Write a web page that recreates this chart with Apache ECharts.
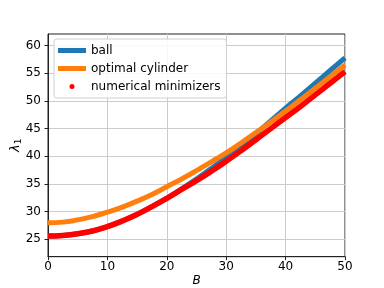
<!DOCTYPE html>
<html>
<head>
<meta charset="utf-8">
<script src="https://cdn.jsdelivr.net/npm/echarts@6/dist/echarts.min.js"></script>
<style>html,body{margin:0;padding:0;background:#fff}#c{width:384px;height:288px}</style>
</head>
<body>
<div id="c"></div>
<script>
const B = [0, 2.5, 5, 7.5, 10, 12.5, 15, 17.5, 20, 22.5, 25, 27.5, 30, 32.5, 35, 37.5, 40, 42.5, 45, 47.5, 50];
const ball = [25.6, 25.7, 26.0, 26.5, 27.3, 28.3, 29.5, 30.9, 32.4, 34.1, 35.9, 37.8, 39.8, 41.9, 44.1, 46.4, 48.7, 50.9, 53.2, 55.5, 57.8];
const cylinder = [28.0, 28.1, 28.5, 29.1, 29.9, 30.8, 31.9, 33.1, 34.5, 35.9, 37.4, 39.0, 40.6, 42.4, 44.3, 46.2, 48.2, 50.2, 52.3, 54.4, 56.5];
const numerical = [25.6, 25.7, 26.0, 26.5, 27.3, 28.3, 29.5, 30.9, 32.4, 34.0, 35.6, 37.3, 39.1, 41.0, 43.0, 45.0, 47.0, 49.0, 51.1, 53.2, 55.3];
const xTicks = [0, 10, 20, 30, 40, 50];
const yTicks = [25, 30, 35, 40, 45, 50, 55, 60];

const pair = arr => B.map((b, i) => [b, arr[i]]);
const font = 'DejaVu Sans';
const chart = echarts.init(document.getElementById('c'), null, {renderer: 'canvas'});
chart.setOption({
  animation: false,
  backgroundColor: '#fff',
  grid: {left: 48, right: 39, top: 34, bottom: 31.3, containLabel: false, outerBoundsMode: 'none',
         show: true, borderColor: '#222', borderWidth: 1, backgroundColor: 'transparent'},
  legend: {
    orient: 'vertical', left: 54, top: 39,
    padding: [5, 6, 5, 4], itemGap: 5, itemWidth: 28, itemHeight: 5,
    backgroundColor: 'rgba(255,255,255,0.85)', borderColor: '#d0d0d0', borderWidth: 1, borderRadius: 3,
    textStyle: {fontFamily: font, fontSize: 12, color: '#000', lineHeight: 13},
    data: [
      {name: 'ball', icon: 'rect'},
      {name: 'optimal cylinder', icon: 'rect'},
      {name: 'numerical minimizers', icon: 'circle', itemStyle: {color: '#ff0000'}}
    ]
  },
  xAxis: {
    type: 'value', min: 0, max: 50, interval: 10,
    name: 'B', nameLocation: 'middle', nameGap: 18, nameMoveOverlap: false,
    nameTextStyle: {fontFamily: font, fontSize: 12, fontStyle: 'italic', color: '#000'},
    axisLine: {show: true, onZero: false, lineStyle: {color: '#222', width: 1}},
    axisTick: {show: true, inside: false, length: 3.5, lineStyle: {color: '#222'}},
    axisLabel: {fontFamily: font, fontSize: 12, color: '#000', margin: 4},
    splitLine: {show: true, lineStyle: {color: '#cccccc', width: 1}}
  },
  yAxis: {
    type: 'value', min: 21.85, max: 62.1,
    name: '{a|λ}{b|1}', nameLocation: 'middle', nameGap: 25, nameMoveOverlap: false,
    nameTextStyle: {fontFamily: font, color: '#000', rich: {
      a: {fontFamily: font, fontSize: 13, fontStyle: 'italic', color: '#000'},
      b: {fontFamily: font, fontSize: 9, color: '#000', padding: [6, 0, 0, 0]}
    }},
    axisLine: {show: true, onZero: false, lineStyle: {color: '#222', width: 1}},
    axisTick: {show: true, inside: false, length: 3.5, lineStyle: {color: '#222'}, customValues: yTicks},
    axisLabel: {fontFamily: font, fontSize: 12, color: '#000', margin: 7, customValues: yTicks},
    splitLine: {show: true, lineStyle: {color: '#cccccc', width: 1}}
  },
  series: [
    {name: 'ball', type: 'line', data: pair(ball), smooth: true, showSymbol: false, symbol: 'none',
     color: '#1f77b4', lineStyle: {color: '#1f77b4', width: 5}, z: 2},
    {name: 'optimal cylinder', type: 'line', data: pair(cylinder), smooth: true, showSymbol: false, symbol: 'none',
     color: '#ff7f0e', lineStyle: {color: '#ff7f0e', width: 5}, z: 3},
    {name: 'numerical minimizers', type: 'line', data: pair(numerical), smooth: true, showSymbol: false, symbol: 'none',
     color: '#ff0000', lineStyle: {color: '#ff0000', width: 5.5}, z: 4}
  ]
});
</script>
</body>
</html>
